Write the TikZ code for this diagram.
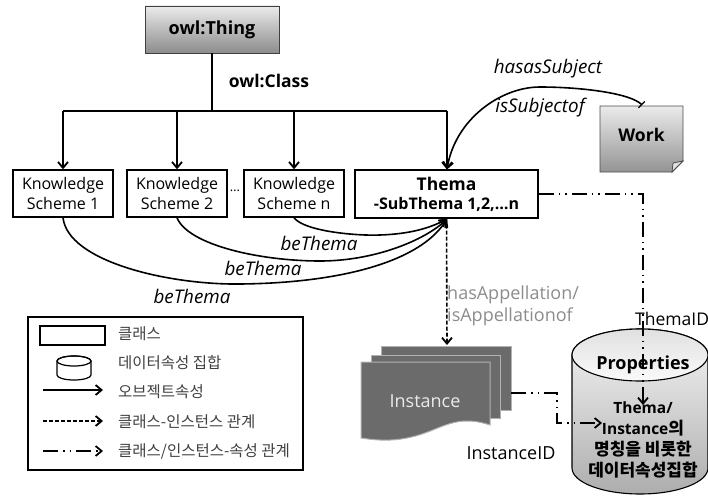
\documentclass[tikz,border=0pt]{standalone}
\usepackage{fontspec}
\setmainfont{Open Sans}
\newfontfamily\kr{Noto Sans CJK KR}
\usetikzlibrary{arrows.meta,positioning}
\newcommand{\fs}[2]{\fontsize{#1}{#2}\selectfont}
\tikzset{
  tip/.style={-{Straight Barb[length=6pt,width=10pt,line width=1.8pt]}},
  conn/.style={draw=black,line width=1.8pt},
  rel/.style={draw=black,line width=1.6pt,tip},
  ddot/.style={line width=1.8pt,dash pattern=on 15pt off 5pt on 1.5pt off 5pt on 1.5pt off 5pt},
  dash2/.style={line width=1.6pt,dash pattern=on 4pt off 2pt},
  cls/.style={draw=black,line width=1.4pt,fill=white,inner sep=0pt,align=center,font=\fs{16}{20}},
  lab/.style={font=\fs{18.8}{22}\itshape,inner sep=0pt},
  legtxt/.style={font=\kr\fs{15.5}{18},text=black!75,anchor=west,inner sep=0pt},
}
\begin{document}
\begin{tikzpicture}[x=1pt,y=-1pt]
\useasboundingbox (0,0) rectangle (708,495);
% Top box
\node[draw=black!75,line width=0.8pt,top color=white!92!black,bottom color=black!45,minimum width=134pt,minimum height=47pt,inner sep=0pt,font=\fs{18}{22}\bfseries] (thing) at (212,29.5) {owl:Thing};
\node[inner sep=0pt,font=\fs{17.5}{20}\bfseries] (clslab) at (269,81) {owl:Class};
% Classes
\node[cls,minimum width=100pt,minimum height=47pt] (k1) at (63,193.5) {Knowledge\\Scheme 1};
\node[cls,minimum width=100pt,minimum height=47pt] (k2) at (177,193.5) {Knowledge\\Scheme 2};
\node[cls,minimum width=100pt,minimum height=47pt] (kn) at (294,193.5) {Knowledge\\Scheme n};
\node[cls,minimum width=183pt,minimum height=48pt] (thema) at (446.5,194) {{\fs{17.5}{21}\bfseries Thema}\\[-1pt]{\fs{16}{18}\bfseries -SubThema 1,2,…n}};
\node[inner sep=0pt,font=\fs{13}{16}] (dots) at (235,191) {…};
% Tree
\coordinate (bus) at (212,111);
\draw[conn,line width=2.4pt] (thing.south) -- (bus);
\draw[conn] (63,111) -- (447,111);
\draw[rel] (63,111) -- (k1.north);
\draw[rel] (177,111) -- (k2.north);
\draw[rel] (294,111) -- (kn.north);
\draw[rel] (447,111) -- (447,169.5);
% beThema curves
\coordinate (tin) at (447,219);
\draw[rel] (k1.south) .. controls (68,262) and (170,285) .. (240,284) .. controls (340,283) and (420,262) .. (tin);
\draw[rel] (k2.south) .. controls (188,245) and (260,261) .. (320,261) .. controls (375,261) and (425,240) .. (tin);
\draw[rel] (kn.south) .. controls (305,232) and (360,236) .. (380,235) .. controls (410,234) and (430,228) .. (tin);
\node[lab] (b1) at (319,243) {beThema};
\node[lab] (b2) at (263,268) {beThema};
\node[lab] (b3) at (192,296) {beThema};
% Work
\path[draw=black!70,line width=0.8pt,top color=black!8,bottom color=black!42] (600,106) -- (683,106) -- (683,161) -- (672,172) -- (600,172) -- cycle;
\path[draw=black!70,line width=0.8pt,fill=black!12] (683,161) -- (673,163) -- (672,172) -- cycle;
\node[inner sep=0pt,font=\fs{17.5}{21}\bfseries] (work) at (641.5,135) {Work};
\coordinate (wtop) at (642,105);
\coordinate (tn) at (447,169.5);
\draw[rel,{Straight Barb[length=6pt,width=10pt,line width=1.8pt]}-{Bar[width=9pt,line width=1.2pt]}] (tn) .. controls (455,120) and (500,87) .. (540,87) .. controls (580,87) and (630,93) .. (wtop);
\node[lab] (hs) at (548,69) {hasasSubject};
\node[lab] (is) at (540,108) {isSubjectof};
% Instance stack
\tikzset{doc/.style={fill=black!58,draw=black!30,line width=1pt}}
\path[doc] (381,346) rectangle (511,410);
\path[doc] (371,355) rectangle (500,418);
\path[doc] (361,362) -- (490,362) -- (490,425) .. controls (460,415) and (445,426) .. (425,433) .. controls (400,442) and (380,441) .. (361,438) -- cycle;
\node[inner sep=0pt,text=white!92!black,font=\fs{18}{20}] (inst) at (425,401) {Instance};
\draw[draw=black,dash2,tip] (thema.south) -- (447,345);
\node[inner sep=0pt,anchor=west,align=left,text=black!45,font=\fs{18}{22}] (ap) at (447,306) {hasAppellation/\\isAppellationof};
% Cylinder
\path[draw=black,line width=1.1pt,top color=black!4,bottom color=black!32] (572,355) arc[x radius=68,y radius=26,start angle=180,end angle=360] -- (708,468) arc[x radius=68,y radius=26,start angle=0,end angle=180] -- cycle;
\path[draw=black,line width=1.1pt,top color=black!12,bottom color=black!2] (640,355) ellipse[x radius=68,y radius=26];
\node[inner sep=0pt,font=\fs{18}{22}\bfseries] (props) at (643,365) {Properties};
\node[inner sep=0pt,align=center,font=\kr\fs{17}{21}\bfseries] (ptxt) at (643,439.5) {{\rmfamily\bfseries\fs{15.5}{21}Thema/}\\{\rmfamily\bfseries\fs{15.5}{21}Instance}의\\명칭을 비롯한\\데이터속성집합};
% Dash-dot lines
\coordinate (c1) at (643,194);
\coordinate (c2) at (643,405);
\draw[ddot,tip] (thema.east |- 0,194) -- (c1) -- (c2);
\coordinate (i0) at (511,393);
\coordinate (i1) at (557,393);
\coordinate (i2) at (557,423);
\coordinate (i3) at (602,423);
\draw[ddot,tip] (i0) -- (i1) -- (i2) -- (i3);
\node[inner sep=0pt,anchor=west,font=\fs{17.5}{20}] (tid) at (635,319) {ThemaID};
\node[inner sep=0pt,font=\fs{18}{20}] (iid) at (511,453) {InstanceID};
% Legend
\node[draw=black,line width=1.3pt,minimum width=275pt,minimum height=153pt,inner sep=0pt] (leg) at (165.5,393.5) {};
\node[draw=black,line width=1.3pt,minimum width=65pt,minimum height=19pt,inner sep=0pt] (l1) at (72.5,335.5) {};
\node[legtxt] (t1) at (118,334) {클래스};
\path[draw=black,line width=1.2pt,fill=white] (57,361) arc[x radius=17,y radius=5,start angle=180,end angle=360] -- (91,375) arc[x radius=17,y radius=5,start angle=0,end angle=180] -- cycle;
\draw[black,line width=1.2pt] (74,361) ellipse[x radius=17,y radius=5];
\node[legtxt] (t2) at (118,363) {데이터속성 집합};
\coordinate (a1) at (43,390); \coordinate (a2) at (103,390);
\draw[rel] (a1) -- (a2);
\node[legtxt] (t3) at (118,392) {오브젝트속성};
\coordinate (b1a) at (43,421); \coordinate (b2a) at (103,421);
\draw[draw=black,dash2,tip] (b1a) -- (b2a);
\node[legtxt] (t4) at (118,422) {클래스-인스턴스 관계};
\coordinate (c1a) at (43,451); \coordinate (c2a) at (103,451);
\draw[ddot,tip] (c1a) -- (c2a);
\node[legtxt] (t5) at (118,451) {클래스/인스턴스-속성 관계};
\end{tikzpicture}
\end{document}
